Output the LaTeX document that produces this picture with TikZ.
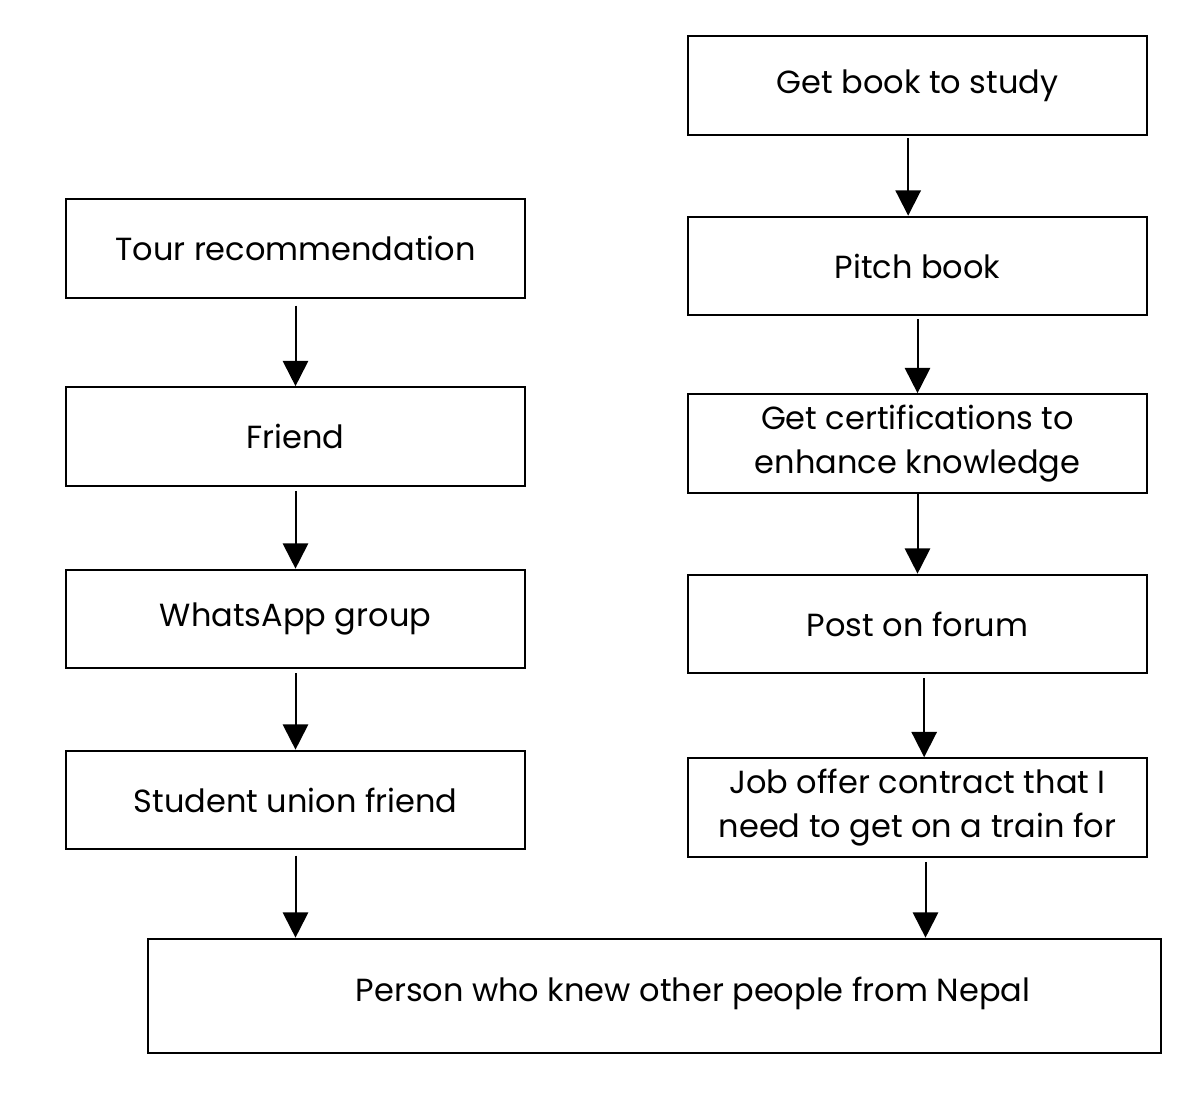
\documentclass[tikz,border=0pt]{standalone}
\usepackage{fontspec}
\setmainfont{Poppins}
\usetikzlibrary{arrows.meta}

\tikzset{every picture/.style={line width=1.5pt}}
\tikzset{
  flowbox/.style={draw, minimum width=344pt, minimum height=74pt, inner sep=0pt, align=center,
    font=\fontsize{24}{33}\selectfont},
  flowarrow/.style={-{Triangle[width=19pt,length=19pt]}},
}

\begin{document}
\begin{tikzpicture}[x=0.75pt,y=0.75pt,yscale=-1,xscale=1]
\useasboundingbox (0,0) rectangle (1194,1105);

%Left column
\node [flowbox] (tour) at (295.5,248.5) {Tour recommendation};
\node [flowbox] (friend) at (295.5,436.5) {Friend};
\node [flowbox] (whatsapp) at (295.5,619) {WhatsApp group};
\node [flowbox] (union) at (295.5,800) {Student union friend};

%Right column
\node [flowbox] (book) at (917.5,85.5) {Get book to study};
\node [flowbox] (pitch) at (917.5,266) {Pitch book};
\node [flowbox] (certs) at (917.5,443.5) {Get certifications to\\enhance knowledge};
\node [flowbox] (forum) at (917.5,624) {Post on forum};
\node [flowbox] (job) at (917.5,807.5) {Job offer contract that I\\need to get on a train for};

%Bottom box
\node [flowbox, minimum width=760pt, minimum height=86pt] (nepal) at (654.5,996) {};
% Text Node
\node [font=\fontsize{24}{33}\selectfont, inner sep=0pt] (nepaltext) at (693,993) {Person who knew other people from Nepal};

%Straight Lines
\draw [flowarrow] ([yshift=5]tour.south) -- (friend.north);
\draw [flowarrow] ([yshift=3]friend.south) -- (whatsapp.north);
\draw [flowarrow] ([yshift=3]whatsapp.south) -- (union.north);
\draw [flowarrow] ([yshift=4]union.south) -- (union.south |- nepal.north);
\draw [flowarrow] ([xshift=-7pt,yshift=2]book.south) -- ([xshift=-7pt]pitch.north);
\draw [flowarrow] ([yshift=2]pitch.south) -- (certs.north);
\draw [flowarrow] (certs.south) -- (forum.north);
\draw [flowarrow] ([xshift=5pt,yshift=3]forum.south) -- ([xshift=5pt]job.north);
\draw [flowarrow] ([xshift=6pt,yshift=3]job.south) -- ([xshift=6pt]job.south |- nepal.north);
\end{tikzpicture}
\end{document}
